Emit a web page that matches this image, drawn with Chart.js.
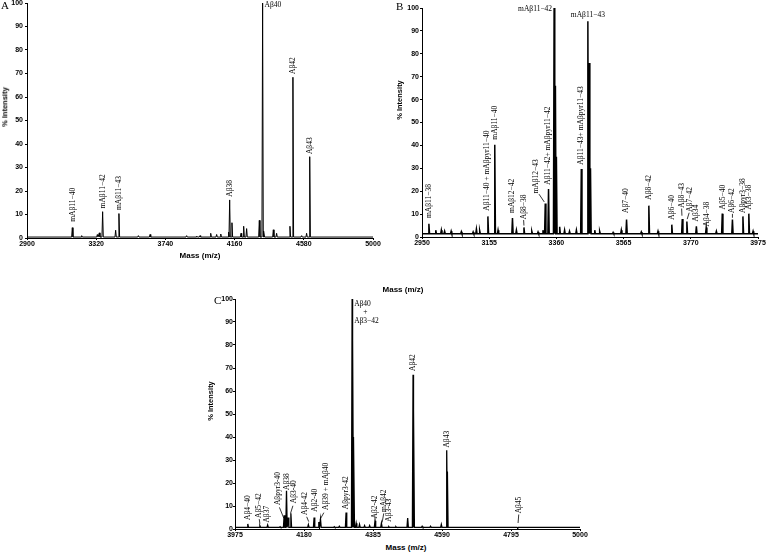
<!DOCTYPE html>
<html><head><meta charset="utf-8">
<script src="https://cdn.jsdelivr.net/npm/chart.js@4/dist/chart.umd.min.js"></script>
<style>
html,body{margin:0;padding:0;background:#fff}
body{width:767px;height:552px;position:relative;overflow:hidden;font-family:'Liberation Sans',Arial,sans-serif}
canvas{position:absolute}
.t{position:absolute;white-space:nowrap;color:#000;line-height:1;z-index:2}
.panel{font-family:'Liberation Serif','Times New Roman',serif;font-size:11px}
.ax{font-weight:bold;font-size:8px;transform:translate(-50%,-50%)}
.axr{font-weight:bold;font-size:7.5px;transform:translate(-50%,-50%) rotate(-90deg)}
</style></head><body>
<canvas id="cA" width="385" height="250" style="left:0;top:0"></canvas>
<canvas id="cB" width="382" height="250" style="left:385px;top:0"></canvas>
<canvas id="cC" width="395" height="250" style="left:195px;top:292px"></canvas>
<div class="t panel" style="left:1px;top:0px">A</div>
<div class="t panel" style="left:396px;top:1px">B</div>
<div class="t panel" style="left:214px;top:295px">C</div>
<div class="t axr" style="left:5px;top:107px">% Intensity</div>
<div class="t axr" style="left:400px;top:100px">% Intensity</div>
<div class="t axr" style="left:211px;top:401px">% Intensity</div>
<div class="t ax" style="left:200px;top:256px">Mass (m/z)</div>
<div class="t ax" style="left:403px;top:290px">Mass (m/z)</div>
<div class="t ax" style="left:406px;top:548px">Mass (m/z)</div>
<script>
// ---------- Panel A data ----------
const xTicksA = [2900, 3320, 3740, 4160, 4580, 5000];
const peakMassA = [3175, 3232, 3327, 3339, 3359, 3438, 3458, 3576, 3647, 3869, 3930, 3950, 4015, 4051, 4076, 4124, 4130, 4144, 4199, 4215, 4233, 4310, 4330, 4338, 4395, 4415, 4496, 4514, 4567, 4597, 4616];
const peakIntA  = [4.4, 1.0, 1.5, 2.2, 11.2, 3.3, 10.4, 1.0, 1.5, 1.0, 0.8, 1.0, 2.0, 1.5, 1.7, 2.5, 16.2, 6.5, 2.0, 5.0, 4.0, 7.5, 100, 3.0, 3.5, 2.0, 5.0, 68.4, 1.0, 2.0, 34.6];
const baseA = 0.4;
const rotTextA  = ['mAβ11−40', 'mAβ11−42', 'mAβ11−43', 'Aβ38', 'Aβ42', 'Aβ43'];
const rotMassA  = [3178, 3359, 3458, 4130, 4514, 4616];
const rotStartA = [6.9, 12.6, 11.9, 17.6, 69.8, 35.7];
const horTextA  = ['Aβ40'];
const horMassA  = [4330];
const horIntA   = [99];
const horAlignA = ['left'];
const arrowsA   = [];

// ---------- Panel B data ----------
const xTicksB = [2950, 3155, 3360, 3565, 3770, 3975];
const peakMassB = [2971, 2992, 3009, 3019, 3039, 3070, 3106, 3116, 3126, 3151, 3172, 3182, 3226, 3238, 3261, 3285, 3304, 3319, 3326, 3336, 3353, 3357, 3360, 3370, 3385, 3400, 3421, 3436, 3456, 3460, 3464, 3477, 3492, 3533, 3558, 3574, 3619, 3642, 3670, 3712, 3744, 3758, 3787, 3817, 3848, 3866, 3897, 3929, 3947, 3960];
const peakIntB  = [5.8, 3.0, 3.0, 2.5, 2.5, 2.3, 2.2, 3.5, 2.8, 9.0, 40.3, 3.0, 8.3, 3.0, 4.2, 2.5, 2.2, 3.0, 14.6, 21.0, 100, 66, 35, 4.5, 3.0, 2.5, 3.0, 29.7, 94.2, 76, 30, 3.0, 2.5, 2.0, 3.0, 7.6, 2.2, 13.7, 2.5, 5.4, 7.9, 6.8, 4.7, 4.1, 2.5, 10.2, 7.6, 9.0, 10.2, 2.5];
const baseB = 1.4;
const rotTextB  = ['mAβ11−38', 'Aβ11−40 + mAβpyr11−40', 'mAβ11−40', 'mAβ12−42', 'Aβ8−38', 'mAβ12−43', 'Aβ11−42+ mAβpyr11−42', 'Aβ11−43+ mAβpyr11−43', 'Aβ7−40', 'Aβ8−42', 'Aβ6−40', 'Aβ8−43', 'Aβ7−42', 'Aβ34', 'Aβ4−38', 'Aβ5−40', 'Aβ6−42', 'Aβpyr3−38', 'Aβ3−38'];
const rotMassB  = [2971, 3149, 3172, 3226, 3260, 3299, 3334, 3436, 3573, 3642, 3712, 3742, 3767, 3787, 3819, 3868, 3897, 3929, 3947];
const rotStartB = [8.3, 11.5, 42.5, 10.5, 7.8, 19.0, 22.8, 31.6, 10.5, 16.3, 7.5, 12.8, 11.0, 6.8, 4.6, 12.0, 10.5, 10.5, 12.0];
const horTextB  = ['mAβ11−42', 'mAβ11−43'];
const horMassB  = [3353, 3456];
const horIntB   = [99.7, 97];
const horAlignB = ['right', 'center'];
const arrowsB   = [[3260, 7.4, 3261, 5.0], [3307, 18.7, 3323, 15.3], [3742, 12.4, 3743, 9.3], [3765, 10.6, 3759, 7.8], [3897, 10.1, 3897, 8.4]];

// ---------- Panel C data ----------
const xTicksC = [3975, 4180, 4385, 4590, 4795, 5000];
const peakMassC = [4013, 4049, 4072, 4109, 4121, 4128, 4133, 4141, 4193, 4210, 4224, 4229, 4270, 4285, 4305, 4323, 4325, 4328, 4335, 4345, 4360, 4375, 4391, 4410, 4432, 4453, 4488, 4504, 4506, 4531, 4556, 4588, 4604, 4606, 4815];
const peakIntC  = [2.2, 1.4, 1.7, 1.0, 6.0, 16.6, 5.0, 6.8, 1.9, 5.0, 3.0, 4.3, 1.0, 1.2, 7.2, 100, 82, 40, 2.5, 2.0, 1.5, 1.5, 3.6, 2.5, 1.0, 1.0, 4.8, 67.1, 52, 1.2, 1.2, 2.0, 34.2, 25, 0.5];
const baseC = 0.7;
const rotTextC  = ['Aβ4−40', 'Aβ5−42', 'Aβ37', 'Aβpyr3-40', 'Aβ38', 'Aβ3-40', 'Aβ4-42', 'Aβ2-40', 'Aβ39 + mAβ40', 'Aβpyr3-42', 'Aβ2-42', 'mAβ42', 'Aβ3-43', 'Aβ42', 'Aβ43', 'Aβ45'];
const rotMassC  = [4013, 4046, 4071, 4102, 4129, 4149, 4184, 4212, 4244, 4305, 4391, 4419, 4434, 4504, 4604, 4818];
const rotStartC = [3.9, 4.8, 2.8, 10.4, 17.0, 11.2, 6.1, 7.5, 8.3, 8.6, 4.6, 7.4, 3.2, 68.7, 35.4, 6.8];
const horTextC  = ['Aβ40', '+', 'Aβ3−42'];
const horMassC  = [4323, 4362, 4323];
const horIntC   = [97.7, 94.5, 90.4];
const horAlignC = ['left', 'center', 'left'];
const arrowsC   = [[4047, 4.3, 4049, 2.3], [4107, 9.4, 4120, 4.7], [4147, 10.1, 4140, 6.8], [4188, 5.3, 4194, 3.2], [4239, 7.1, 4228, 4.2], [4417, 6.8, 4412, 2.8], [4818, 6.3, 4816, 2.6]];

const yTicks = [0, 10, 20, 30, 40, 50, 60, 70, 80, 90, 100];

// ---------- helpers ----------
function spectrum(masses, ints, base, start, end, hw) {
  const pts = [{x: start, y: base}];
  masses.forEach((m, i) => {
    pts.push({x: m - hw, y: base}, {x: m, y: ints[i]}, {x: m + hw, y: base});
  });
  pts.push({x: end, y: base});
  return pts;
}

function labelPlugin(rotText, rotMass, rotStart, horText, horMass, horInt, horAlign, arrows) {
  return {
    id: 'peakLabels',
    afterDatasetsDraw(chart) {
      const ctx = chart.ctx, x = chart.scales.x, y = chart.scales.y;
      ctx.save();
      ctx.fillStyle = '#000';
      ctx.strokeStyle = '#000';
      ctx.lineWidth = 0.8;
      ctx.font = '7.5px "Liberation Serif", "Times New Roman", serif';
      rotText.forEach((t, i) => {
        const px = x.getPixelForValue(rotMass[i]);
        const py = y.getPixelForValue(rotStart[i]);
        ctx.save();
        ctx.translate(px, py);
        ctx.rotate(-Math.PI / 2);
        ctx.textAlign = 'left';
        ctx.textBaseline = 'middle';
        ctx.fillText(t, 0, 0);
        ctx.restore();
      });
      horText.forEach((t, i) => {
        let px = x.getPixelForValue(horMass[i]);
        const py = y.getPixelForValue(horInt[i]);
        const a = horAlign[i];
        if (a === 'left') px += 2;
        if (a === 'right') px -= 2;
        ctx.textAlign = a;
        ctx.textBaseline = 'middle';
        ctx.fillText(t, px, py);
      });
      arrows.forEach(a => {
        ctx.beginPath();
        ctx.moveTo(x.getPixelForValue(a[0]), y.getPixelForValue(a[1]));
        ctx.lineTo(x.getPixelForValue(a[2]), y.getPixelForValue(a[3]));
        ctx.stroke();
      });
      ctx.restore();
    }
  };
}

const tickFont = {family: '"Liberation Sans", Arial, sans-serif', size: 7, weight: 'bold'};

function makeChart(id, cfg) {
  return new Chart(document.getElementById(id), {
    type: 'line',
    data: {datasets: [{
      data: cfg.pts, borderColor: '#000', borderWidth: cfg.lw,
      pointRadius: 0, tension: 0, fill: false
    }]},
    options: {
      responsive: false, animation: false, devicePixelRatio: 1,
      layout: {padding: {left: 0, top: cfg.padTop, right: cfg.padRight, bottom: 0}},
      plugins: {legend: {display: false}, tooltip: {enabled: false}},
      scales: {
        x: {
          type: 'linear', min: cfg.xTicks[0], max: cfg.xTicks[cfg.xTicks.length - 1],
          afterBuildTicks: s => { s.ticks = cfg.xTicks.map(v => ({value: v})); },
          afterFit: s => { s.height = cfg.xH; s.paddingLeft = 0; s.paddingRight = 0; },
          grid: {drawOnChartArea: false, drawTicks: true, tickLength: 2, color: '#000'},
          border: {color: '#000', width: 1},
          ticks: {font: tickFont, color: '#000', padding: 0, maxRotation: 0, autoSkip: false,
                  callback: v => String(v)}
        },
        y: {
          type: 'linear', min: 0, max: 100,
          afterBuildTicks: s => { s.ticks = yTicks.map(v => ({value: v})); },
          afterFit: s => { s.width = cfg.yW; s.paddingTop = 0; s.paddingBottom = 0; },
          grid: {drawOnChartArea: false, drawTicks: true, tickLength: 2, color: '#000'},
          border: {color: '#000', width: 1},
          ticks: {font: tickFont, color: '#000', padding: cfg.yPad, callback: v => String(v)}
        }
      }
    },
    plugins: [cfg.plugin]
  });
}

makeChart('cA', {
  pts: spectrum(peakMassA, peakIntA, baseA, 2900, 5000, 4), lw: 1,
  xTicks: xTicksA, padTop: 3, padRight: 12, xH: 12, yW: 27, yPad: 2,
  plugin: labelPlugin(rotTextA, rotMassA, rotStartA, horTextA, horMassA, horIntA, horAlignA, arrowsA)
});
makeChart('cB', {
  pts: spectrum(peakMassB, peakIntB, baseB, 2950, 3975, 2), lw: 1.5,
  xTicks: xTicksB, padTop: 8, padRight: 9, xH: 13, yW: 37, yPad: 1,
  plugin: labelPlugin(rotTextB, rotMassB, rotStartB, horTextB, horMassB, horIntB, horAlignB, arrowsB)
});
makeChart('cC', {
  pts: spectrum(peakMassC, peakIntC, baseC, 3975, 5000, 2), lw: 1.3,
  xTicks: xTicksC, padTop: 7, padRight: 10, xH: 13, yW: 40, yPad: 0,
  plugin: labelPlugin(rotTextC, rotMassC, rotStartC, horTextC, horMassC, horIntC, horAlignC, arrowsC)
});
</script>
</body></html>
